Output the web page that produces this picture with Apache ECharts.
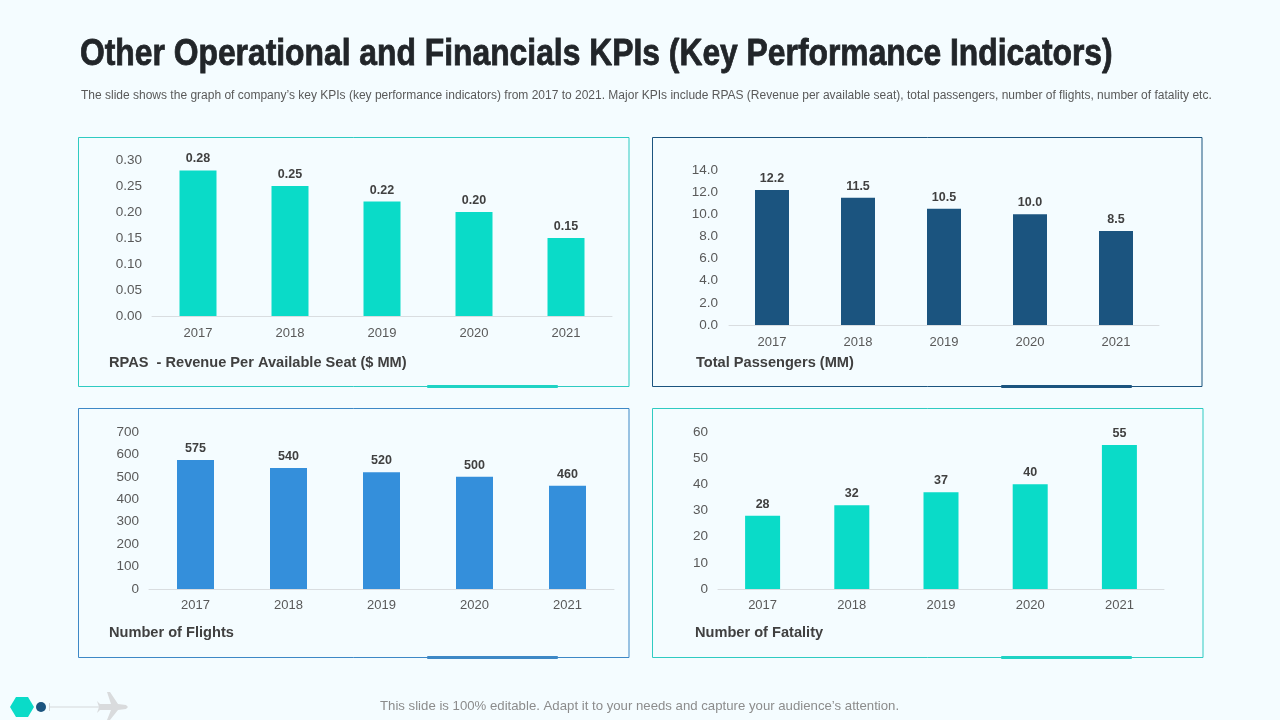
<!DOCTYPE html>
<html>
<head>
<meta charset="utf-8">
<title>Other Operational and Financials KPIs</title>
<script src="https://cdn.jsdelivr.net/npm/echarts@6/dist/echarts.min.js"></script>
<style>
html, body { margin: 0; padding: 0; background: #f4fcff; }
#chart { width: 1280px; height: 720px; }
</style>
</head>
<body>
<div id="chart"></div>
<script>
// data
const years = ['2017', '2018', '2019', '2020', '2021'];
const rpasValues = [0.28, 0.25, 0.22, 0.20, 0.15];
const passengerValues = [12.2, 11.5, 10.5, 10.0, 8.5];
const flightValues = [575, 540, 520, 500, 460];
const fatalityValues = [28, 32, 37, 40, 55];

const titleText = 'Other Operational and Financials KPIs (Key Performance Indicators)';
const subtitleText = 'The slide shows the graph of company\u2019s key KPIs (key performance indicators) from 2017 to 2021. Major KPIs include RPAS (Revenue per available seat), total passengers, number of flights, number of fatality etc.';
const footerText = 'This slide is 100% editable. Adapt it to your needs and capture your audience\u2019s attention.';

const TEAL = '#0adbc8';
const NAVY = '#1b547f';
const BLUE = '#348fdb';
const FONT = '"Liberation Sans", Arial, sans-serif';

// one entry per panel
const panels = [
    { name: 'RPAS  - Revenue Per Available Seat ($ MM)', values: rpasValues, color: TEAL, frame: '#2fcbc2',
      box: [78.5, 137.5, 550.5, 249], grid: [152, 160, 460, 156], max: 0.30, interval: 0.05, digits: 2, barWidth: 37, nameX: 109, nameY: 363, xMargin: 11, yMargin: 10 },
    { name: 'Total Passengers (MM)', values: passengerValues, color: NAVY, frame: NAVY,
      box: [652.5, 137.5, 549.5, 249], grid: [729, 170, 430, 155], max: 14, interval: 2, digits: 1, barWidth: 34, nameX: 696, nameY: 363, xMargin: 11, yMargin: 11 },
    { name: 'Number of Flights', values: flightValues, color: BLUE, frame: '#3d88c6',
      box: [78.5, 408.5, 550.5, 249], grid: [149, 432, 465, 157], max: 700, interval: 100, digits: 0, barWidth: 37, nameX: 109, nameY: 633, xMargin: 10, yMargin: 10 },
    { name: 'Number of Fatality', values: fatalityValues, color: TEAL, frame: '#2fcbc2',
      box: [652.5, 408.5, 550.5, 249], grid: [718, 432, 446, 157], max: 60, interval: 10, digits: 0, barWidth: 35, nameX: 695, nameY: 633, xMargin: 10, yMargin: 10 }
];

const myChart = echarts.init(document.getElementById('chart'));

const grids = [], xAxes = [], yAxes = [], series = [], graphics = [];

panels.forEach(function (p, i) {
    grids.push({ left: p.grid[0], top: p.grid[1], width: p.grid[2], height: p.grid[3], containLabel: false });
    xAxes.push({
        type: 'category', gridIndex: i, data: years,
        axisTick: { show: false },
        axisLine: { show: true, lineStyle: { color: '#d9dde0', width: 1 } },
        axisLabel: { color: '#595959', fontSize: 13, fontFamily: FONT, margin: p.xMargin }
    });
    yAxes.push({
        type: 'value', gridIndex: i, min: 0, max: p.max, interval: p.interval,
        splitLine: { show: false }, axisTick: { show: false }, axisLine: { show: false },
        axisLabel: {
            color: '#595959', fontSize: 13.5, fontFamily: FONT, margin: p.yMargin, padding: [4, 0, 0, 0],
            formatter: function (v) { return v.toFixed(p.digits); }
        }
    });
    series.push({
        type: 'bar', xAxisIndex: i, yAxisIndex: i, data: p.values, barWidth: p.barWidth,
        itemStyle: { color: p.color }, silent: true,
        label: {
            show: true, position: 'top', distance: 5,
            color: '#404040', fontSize: 12.5, fontWeight: 'bold', fontFamily: FONT,
            formatter: function (d) { return d.value.toFixed(p.digits); }
        }
    });
    // panel frame, accent bar and caption
    graphics.push({
        type: 'rect', shape: { x: p.box[0], y: p.box[1], width: p.box[2], height: p.box[3] },
        style: { fill: 'none', stroke: p.frame, lineWidth: 1 }
    });
    graphics.push({
        type: 'rect', shape: { x: p.box[0] + 348.5, y: p.box[1] + p.box[3] - 1.5, width: 131, height: 3, r: 1 },
        style: { fill: p.frame === '#2fcbc2' ? '#1fd3c4' : p.frame }
    });
    graphics.push({
        type: 'text', x: p.nameX, y: p.nameY,
        style: { text: p.name, fill: '#404040', font: 'bold 14.6px ' + FONT, textAlign: 'left', textVerticalAlign: 'middle' }
    });
});

// slide title, note and footer (the narrow slide fonts are not installed, so squeeze to width)
graphics.push({
    type: 'text', x: 80, y: 55, scaleX: 0.86,
    style: { text: titleText, fill: '#212529', stroke: '#212529', lineWidth: 0.8, font: 'bold 37px ' + FONT, textAlign: 'left', textVerticalAlign: 'middle' }
});
graphics.push({
    type: 'text', x: 81, y: 96,
    style: { text: subtitleText, fill: '#595959', font: '12px ' + FONT, textAlign: 'left', textVerticalAlign: 'middle' }
});
graphics.push({
    type: 'text', x: 380, y: 706, scaleX: 1.015,
    style: { text: footerText, fill: '#8c8c8c', font: '13px ' + FONT, textAlign: 'left', textVerticalAlign: 'middle' }
});

// footer ornament: hexagon, dot, line and plane
graphics.push({ type: 'polygon', shape: { points: [[10, 707], [16, 697], [28, 697], [34, 707], [28, 717], [16, 717]] }, style: { fill: TEAL } });
graphics.push({ type: 'circle', shape: { cx: 41, cy: 707, r: 5 }, style: { fill: NAVY } });
graphics.push({ type: 'line', shape: { x1: 49.5, y1: 703, x2: 49.5, y2: 711 }, style: { stroke: '#d5d8da', lineWidth: 1 } });
graphics.push({ type: 'line', shape: { x1: 49.5, y1: 707, x2: 100, y2: 707 }, style: { stroke: '#d5d8da', lineWidth: 1 } });
graphics.push({
    type: 'polygon',
    shape: { points: [[97, 701], [100, 704], [111, 704], [107, 692], [110, 692], [118, 704], [126, 705], [128, 707], [126, 709], [118, 710], [110, 720], [107, 720], [111, 710], [100, 710], [97, 713], [99, 707]] },
    style: { fill: '#d9dbdd' }
});

myChart.setOption({
    animation: false,
    backgroundColor: '#f4fcff',
    grid: grids,
    xAxis: xAxes,
    yAxis: yAxes,
    series: series,
    graphic: graphics
});
window.addEventListener('resize', () => myChart.resize());
</script>
</body>
</html>
